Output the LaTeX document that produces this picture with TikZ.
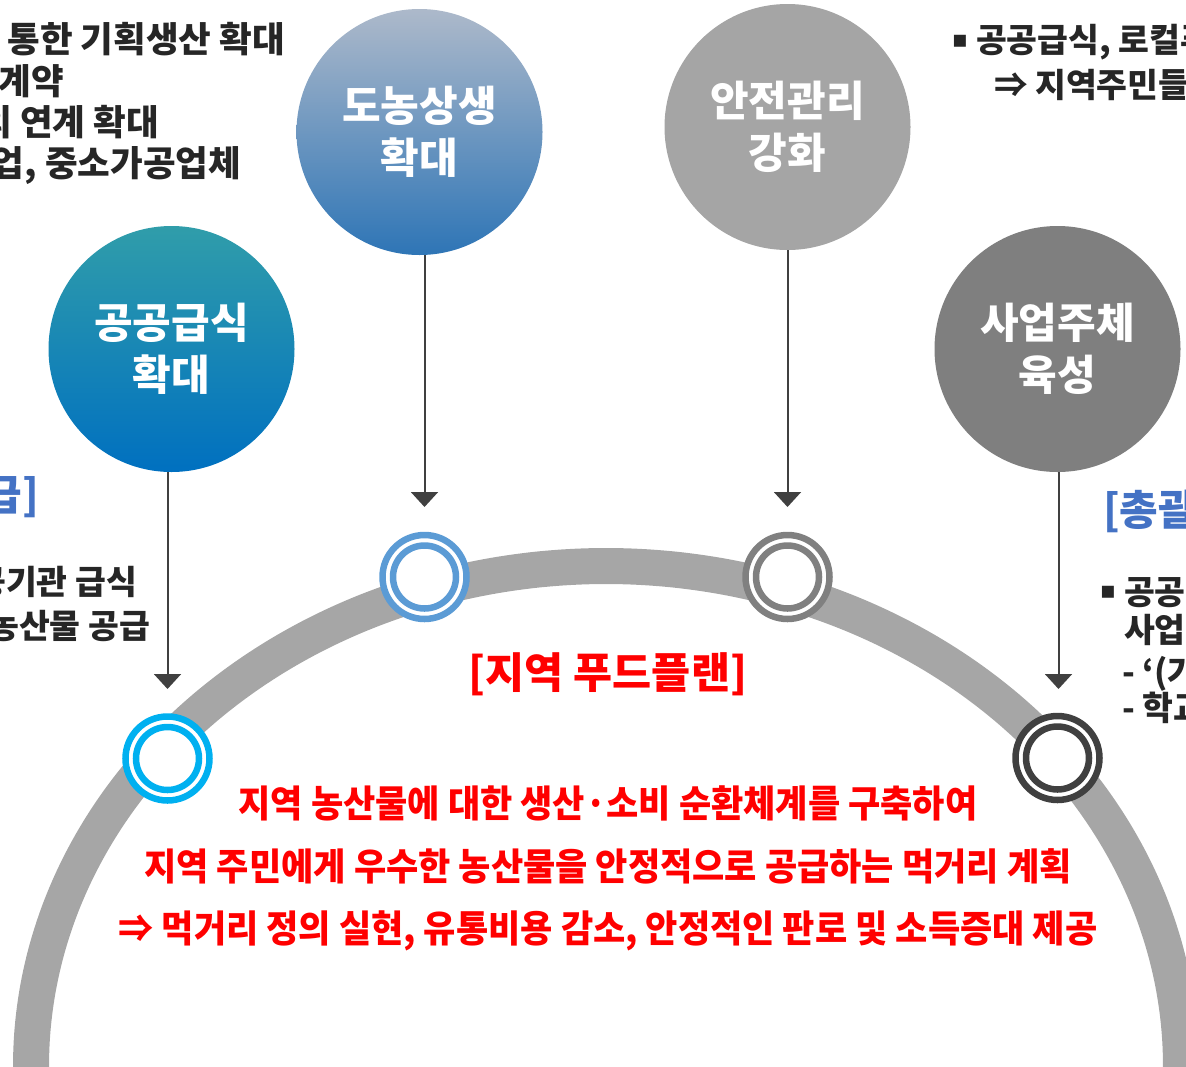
\documentclass[tikz,border=0pt]{standalone}
\usepackage{fontspec}
\newfontfamily\kr{Noto Sans CJK KR}
\newfontfamily\krc{Noto Sans CJK KR}[FakeStretch=0.935]
\newfontfamily\dv{DejaVu Sans}
\usetikzlibrary{arrows.meta}
\definecolor{bandgray}{HTML}{A6A6A6}
\definecolor{txt}{HTML}{262626}
\definecolor{hblue}{HTML}{4472C4}
\definecolor{arrgray}{HTML}{404040}
\definecolor{ringA}{HTML}{00B0F0}
\definecolor{ringB}{HTML}{5B9BD5}
\definecolor{ringC}{HTML}{808080}
\definecolor{ringD}{HTML}{404040}
\definecolor{cAtop}{RGB}{48,157,170}
\definecolor{cAbot}{RGB}{0,112,192}
\definecolor{cBtop}{RGB}{173,185,202}
\definecolor{cBbot}{RGB}{46,117,182}
\definecolor{cC}{HTML}{A5A5A5}
\definecolor{cD}{HTML}{7F7F7F}
\begin{document}
\begin{tikzpicture}[x=1pt,y=-1pt,
  every node/.style={inner sep=0pt, outer sep=0pt},
  bigc/.style={circle, minimum size=246pt, align=center, text=white,
    font=\kr\bfseries\fontsize{42}{52}\selectfont},
  ring/.style={circle, draw=#1, fill=white, line width=6.5pt, minimum size=84pt,
    path picture={\draw[#1, line width=6.5pt] (path picture bounding box.center) circle[radius=31.5pt];}},
  arr/.style={draw=arrgray, line width=2pt, -{Triangle[width=27pt,length=15pt]}},
  dark/.style={text=txt, font=\kr\bfseries\fontsize{35.5}{41}\selectfont},
  darks/.style={text=txt, font=\kr\bfseries\fontsize{33.5}{40}\selectfont},
  bhead/.style={text=hblue, font=\kr\bfseries\fontsize{42}{48}\selectfont},
  bul/.style={text=txt, font=\dv\fontsize{24}{30}\selectfont},
  redt/.style={text=red, font=\kr\bfseries\fontsize{42.5}{48}\selectfont},
  redl/.style={text=red, font=\krc\bfseries\fontsize{37.5}{44}\selectfont},
  band/.style={draw=bandgray, line width=36pt}]
\useasboundingbox (0,0) rectangle (1186,1066);
\clip (0,0) rectangle (1186,1066);

% arch band
\draw[band] plot[domain=185:-5, samples=150, smooth] ({606+575*cos(\x)},{1066-500*sin(\x)});

% rings on the arch
\node[ring=ringA] (r1) at (167.5,758.5) {};
\node[ring=ringB] (r2) at (424.5,577) {};
\node[ring=ringC] (r3) at (787.5,577) {};
\node[ring=ringD] (r4) at (1057.5,758) {};

% big circles
\node[bigc, top color=cAtop, bottom color=cAbot] (c1) at (171.5,349) {공공급식\\확대};
\node[bigc, top color=cBtop, bottom color=cBbot] (c2) at (419.5,132) {도농상생\\확대};
\node[bigc, fill=cC] (c3) at (787.5,127) {안전관리\\강화};
\node[bigc, fill=cD] (c4) at (1057.5,349) {사업주체\\육성};

% arrows
\coordinate (t1) at (167.5,689);
\coordinate (t2) at (424.5,507);
\coordinate (t3) at (787.5,507);
\coordinate (t4) at (1058.5,689);
\draw[arr] (c1.south -| t1) -- (t1);
\draw[arr] (c2.south -| t2) -- (t2);
\draw[arr] (c3.south -| t3) -- (t3);
\draw[arr] (c4.south -| t4) -- (t4);

% top-left text block
\node[dark, anchor=base east] (tl1) at (285,52.5) {▪ 계약재배를 통한 기획생산 확대};
\node[dark, anchor=base east] (tl2) at (64,94) {- 사전 출하계약};
\node[dark, anchor=base east] (tl3) at (159,135) {▪ 지역 가공업체와의 연계 확대};
\node[dark, anchor=base east] (tl4) at (241,176) {- 농산물 가공사업, 중소가공업체};

% top-right text block
\node[bul] (trb) at (960,41) {▪};
\node[darks, anchor=base west] (tr1) at (976,52) {공공급식, 로컬푸드 직매장 등 판로 확대};
\node[darks, anchor=base west] (tr2) at (994,97) {⇒ 지역주민들에게 안전한 먹거리 공급};

% left-middle text block
\node[bhead, anchor=base east] (lh) at (39,510) {[공공급식 공급]};
\node[darks, anchor=base east] (lm1) at (137,594) {▪ 학교 및 공공기관 급식};
\node[darks, anchor=base east] (lm2) at (150,638) {지역 농산물 공급};

% right-middle text block
\node[bhead, anchor=base west] (rh) at (1103,525) {[총괄 지원]};
\node[bul] (rmb) at (1108,592) {▪};
\node[darks, anchor=base west] (rm1) at (1124,604) {공공급식지원센터 설립};
\node[darks, anchor=base west] (rm2) at (1124,642) {사업단 운영};
\node[darks, anchor=base west] (rm3) at (1122,684) {- ‘(가칭)먹거리위원회’};
\node[darks, anchor=base west] (rm4) at (1122,720) {- 학교급식지원센터};

% centre red text
\node[redt, anchor=base] (title) at (608,688) {[지역 푸드플랜]};
\node[redl, anchor=base] (m1) at (608,817) {지역 농산물에 대한 생산·소비 순환체계를 구축하여};
\node[redl, anchor=base] (m2) at (608,880) {지역 주민에게 우수한 농산물을 안정적으로 공급하는 먹거리 계획};
\node[redl, anchor=base] (m3) at (608,942) {⇒ 먹거리 정의 실현, 유통비용 감소, 안정적인 판로 및 소득증대 제공};
\end{tikzpicture}
\end{document}
